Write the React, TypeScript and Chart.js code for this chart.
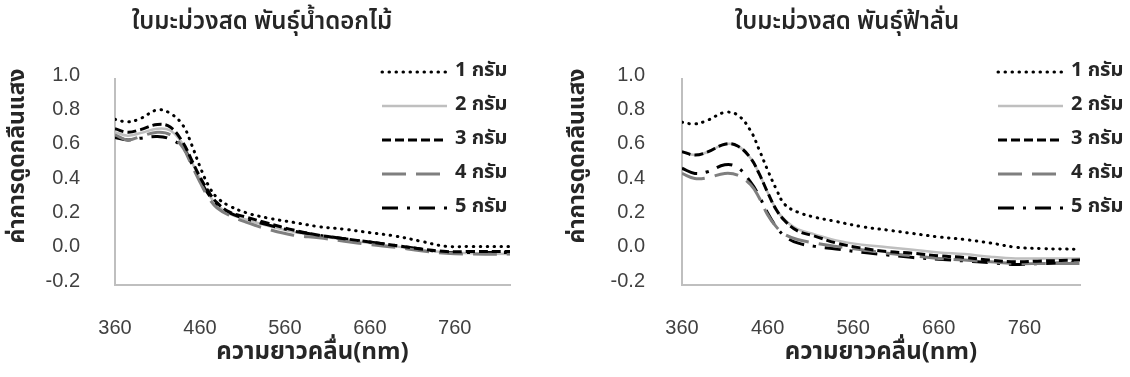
import React, { useEffect, useRef } from "react";
import { Chart, registerables } from "chart.js";

Chart.register(...registerables);

// ---------- data ----------
const wavelengths = [360, 375, 390, 410, 425, 440, 450, 460, 470, 480, 495, 515, 540, 570, 600, 630, 660, 690, 720, 750, 780, 825];
const xTicks = [360, 460, 560, 660, 760];
const yTicks = [-0.2, 0, 0.2, 0.4, 0.6, 0.8, 1.0];
const seriesLabels = ["1 กรัม", "2 กรัม", "3 กรัม", "4 กรัม", "5 กรัม"];

const leftTitle = "ใบมะม่วงสด พันธุ์น้ำดอกไม้";
const rightTitle = "ใบมะม่วงสด พันธุ์ฟ้าลั่น";
const xTitle = "ความยาวคลื่น(nm)";
const yTitle = "ค่าการดูดกลืนแสง";

// left chart (น้ำดอกไม้)
const left1 = [0.765, 0.75, 0.77, 0.82, 0.8, 0.73, 0.62, 0.49, 0.38, 0.31, 0.26, 0.22, 0.19, 0.165, 0.14, 0.125, 0.105, 0.085, 0.055, 0.025, 0.025, 0.025];
const left2 = [0.69, 0.67, 0.685, 0.71, 0.7, 0.62, 0.52, 0.42, 0.33, 0.265, 0.215, 0.18, 0.145, 0.11, 0.085, 0.065, 0.045, 0.025, 0.005, -0.01, -0.015, -0.02];
const left3 = [0.71, 0.69, 0.705, 0.735, 0.72, 0.63, 0.53, 0.43, 0.345, 0.28, 0.225, 0.195, 0.16, 0.12, 0.09, 0.07, 0.05, 0.03, 0.01, -0.005, -0.005, -0.005];
const left4 = [0.675, 0.645, 0.665, 0.69, 0.675, 0.6, 0.5, 0.4, 0.31, 0.25, 0.205, 0.165, 0.125, 0.09, 0.075, 0.055, 0.035, 0.02, 0.0, -0.015, -0.02, -0.02];
const left5 = [0.66, 0.645, 0.655, 0.665, 0.65, 0.6, 0.51, 0.41, 0.33, 0.27, 0.22, 0.185, 0.15, 0.115, 0.09, 0.07, 0.05, 0.03, 0.01, -0.01, -0.01, -0.01];

// right chart (ฟ้าลั่น)
const right1 = [0.748, 0.738, 0.76, 0.805, 0.79, 0.7, 0.59, 0.47, 0.36, 0.27, 0.225, 0.195, 0.17, 0.14, 0.12, 0.1, 0.08, 0.065, 0.045, 0.02, 0.012, 0.008];
const right2 = [0.577, 0.557, 0.575, 0.62, 0.61, 0.54, 0.45, 0.34, 0.242, 0.18, 0.125, 0.095, 0.06, 0.035, 0.02, 0.005, -0.01, -0.02, -0.035, -0.045, -0.045, -0.045];
const right3 = [0.577, 0.557, 0.575, 0.62, 0.61, 0.54, 0.45, 0.34, 0.24, 0.175, 0.115, 0.085, 0.045, 0.015, -0.005, -0.015, -0.03, -0.04, -0.055, -0.065, -0.06, -0.055];
const right4 = [0.45, 0.42, 0.425, 0.45, 0.44, 0.385, 0.31, 0.21, 0.14, 0.095, 0.065, 0.045, 0.025, 0.005, -0.015, -0.03, -0.045, -0.055, -0.065, -0.075, -0.075, -0.075];
const right5 = [0.48, 0.45, 0.46, 0.5, 0.485, 0.4, 0.32, 0.22, 0.14, 0.085, 0.045, 0.025, 0.01, -0.01, -0.025, -0.04, -0.05, -0.06, -0.07, -0.08, -0.075, -0.07];

const leftSeries = [left1, left2, left3, left4, left5];
const rightSeries = [right1, right2, right3, right4, right5];

// ---------- styles ----------
const THAI_FONT = '"Noto Sans Thai", "Noto Sans Thai UI", "Loma", "Garuda", "Noto Sans", "DejaVu Sans", sans-serif';
const NUM_FONT = '"Liberation Sans", Arial, sans-serif';
const TEXT_COLOR = "#262626";
const AXIS_COLOR = "#bfbfbf";

const lineStyles = [
  { color: "#000000", width: 3, dash: [0.5, 6.5], cap: "round", order: 0 },
  { color: "#bfbfbf", width: 2.5, dash: [], cap: "butt", order: 1 },
  { color: "#000000", width: 3, dash: [9, 4], cap: "butt", order: 0 },
  { color: "#7f7f7f", width: 3, dash: [24, 10], cap: "butt", order: 0 },
  { color: "#000000", width: 3, dash: [16, 9, 3, 9], cap: "butt", order: 0 },
];

type PanelCfg = {
  title: string;
  series: number[][];
  width: number;
  yWidth: number;
  yPad: number;
  padRight: number;
  titleX: number;
  titleY: number;
  yTitleX: number;
  yTitleY: number;
  legendX: number;
  legendY0: number;
  legendDy: number;
};

const overlayPlugin = (cfg: PanelCfg) => ({
  id: "overlay",
  afterDraw(chart: any) {
    const ctx = chart.ctx as CanvasRenderingContext2D;
    ctx.save();
    ctx.fillStyle = TEXT_COLOR;
    ctx.textBaseline = "middle";
    // chart title
    ctx.textAlign = "center";
    ctx.font = `600 24px ${THAI_FONT}`;
    ctx.fillText(cfg.title, cfg.titleX, cfg.titleY);
    // y-axis title
    ctx.save();
    ctx.translate(cfg.yTitleX, cfg.yTitleY);
    ctx.rotate(-Math.PI / 2);
    ctx.font = `bold 23px ${THAI_FONT}`;
    ctx.fillText(yTitle, 0, 0);
    ctx.restore();
    // legend
    chart.data.datasets.forEach((ds: any, i: number) => {
      const y = cfg.legendY0 + i * cfg.legendDy;
      ctx.beginPath();
      ctx.strokeStyle = ds.borderColor;
      ctx.lineWidth = ds.borderWidth;
      ctx.setLineDash(ds.borderDash);
      ctx.lineCap = ds.borderCapStyle;
      ctx.moveTo(cfg.legendX, y);
      ctx.lineTo(cfg.legendX + 65, y);
      ctx.stroke();
      ctx.setLineDash([]);
      ctx.textAlign = "left";
      ctx.font = `bold 20px ${THAI_FONT}`;
      ctx.fillText(ds.label, cfg.legendX + 73, y);
    });
    ctx.restore();
  },
});

function makeConfig(cfg: PanelCfg): any {
  return {
    type: "line",
    data: {
      datasets: cfg.series.map((s, i) => ({
        label: seriesLabels[i],
        data: wavelengths.map((w, j) => ({ x: w, y: s[j] })),
        borderColor: lineStyles[i].color,
        borderWidth: lineStyles[i].width,
        borderDash: lineStyles[i].dash,
        borderCapStyle: lineStyles[i].cap,
        order: lineStyles[i].order,
        pointRadius: 0,
        tension: 0.4,
        fill: false,
      })),
    },
    options: {
      responsive: false,
      animation: false,
      layout: { padding: { left: 0, right: cfg.padRight, top: 79, bottom: 0 } },
      plugins: {
        legend: { display: false },
        tooltip: { enabled: false },
        title: { display: false },
      },
      scales: {
        x: {
          type: "linear",
          min: 360,
          max: 825,
          afterBuildTicks: (s: any) => {
            s.ticks = xTicks.map((v) => ({ value: v }));
          },
          afterFit: (s: any) => {
            s.height = 92;
          },
          grid: { display: false, drawTicks: false },
          border: { display: true, color: AXIS_COLOR, width: 2 },
          ticks: {
            padding: 31,
            autoSkip: false,
            maxRotation: 0,
            color: "#404040",
            font: { family: NUM_FONT, size: 20 },
          },
          title: {
            display: true,
            text: xTitle,
            color: TEXT_COLOR,
            font: { family: THAI_FONT, size: 24, weight: "bold", lineHeight: 1.2 },
            padding: { top: 0, bottom: 8 },
          },
        },
        y: {
          type: "linear",
          min: -0.2,
          max: 1.0,
          afterBuildTicks: (s: any) => {
            s.ticks = yTicks.map((v) => ({ value: v }));
          },
          afterFit: (s: any) => {
            s.width = cfg.yWidth;
          },
          grid: { display: false, drawTicks: false },
          border: { display: true, color: AXIS_COLOR, width: 2 },
          ticks: {
            padding: cfg.yPad,
            labelOffset: -4,
            color: "#404040",
            font: { family: NUM_FONT, size: 20 },
            callback: (v: any) => Number(v).toFixed(1),
          },
        },
      },
    },
    plugins: [overlayPlugin(cfg)],
  };
}

const leftCfg: PanelCfg = {
  title: leftTitle,
  series: leftSeries,
  width: 525,
  yWidth: 115,
  yPad: 35,
  padRight: 15,
  titleX: 262,
  titleY: 24,
  yTitleX: 19,
  yTitleY: 156,
  legendX: 382,
  legendY0: 72,
  legendDy: 34,
};

const rightCfg: PanelCfg = {
  title: rightTitle,
  series: rightSeries,
  width: 565,
  yWidth: 117,
  yPad: 37,
  padRight: 50,
  titleX: 282,
  titleY: 24,
  yTitleX: 14,
  yTitleY: 156,
  legendX: 433,
  legendY0: 72,
  legendDy: 34,
};

function Panel({ cfg, left }: { cfg: PanelCfg; left: number }) {
  const ref = useRef<HTMLCanvasElement | null>(null);
  useEffect(() => {
    if (!ref.current) return;
    const chart = new Chart(ref.current, makeConfig(cfg));
    return () => chart.destroy();
  }, [cfg]);
  return (
    <canvas
      ref={ref}
      width={cfg.width}
      height={377}
      style={{ position: "absolute", left, top: 0, width: cfg.width, height: 377, display: "block" }}
    />
  );
}

export default function App() {
  return (
    <div style={{ position: "absolute", left: 0, top: 0, width: 1130, height: 377, background: "#ffffff" }}>
      <Panel cfg={leftCfg} left={0} />
      <Panel cfg={rightCfg} left={565} />
    </div>
  );
}
